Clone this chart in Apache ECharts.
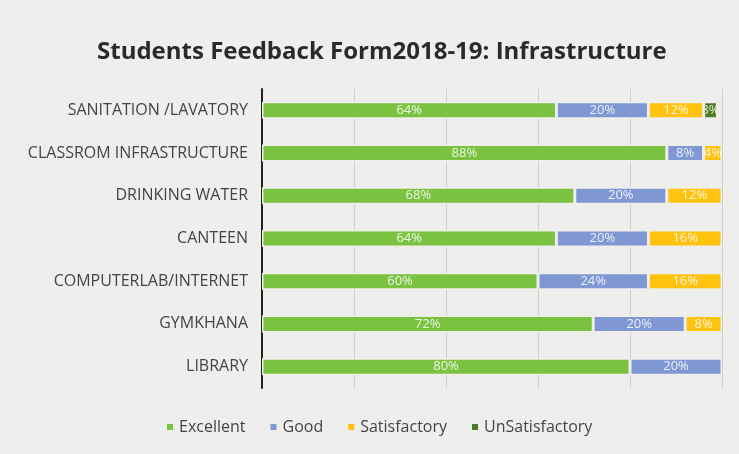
<!DOCTYPE html>
<html><head><meta charset="utf-8">
<script src="https://cdn.jsdelivr.net/npm/echarts@6/dist/echarts.min.js"></script>
<style>html,body{margin:0;padding:0;background:#eeeeec}#c{width:739px;height:454px}</style>
</head><body><div id="c"></div>
<script>
const categories = ['SANITATION /LAVATORY','CLASSROM INFRASTRUCTURE','DRINKING WATER','CANTEEN','COMPUTERLAB/INTERNET','GYMKHANA','LIBRARY'];
const excellent = [64, 88, 68, 64, 60, 72, 80];
const good = [20, 8, 20, 20, 24, 20, 20];
const satisfactory = [12, 4, 12, 16, 16, 8, 0];
const unsatisfactory = [3, 0, 0, 0, 0, 0, 0];
const seriesNames = ['Excellent','Good','Satisfactory','UnSatisfactory'];
const colors = ['#7cc241','#7f97d2','#ffc20e','#4f7a2a'];
const dataSets = [excellent, good, satisfactory, unsatisfactory];

const chart = echarts.init(document.getElementById('c'));
chart.setOption({
  backgroundColor: '#eeeeec',
  animation: false,
  title: {
    text: 'Students Feedback Form2018-19: Infrastructure',
    left: 92, top: 35,
    textStyle: {fontFamily: 'Open Sans', fontWeight: 'bold', fontSize: 24, color: '#2a2a2a'}
  },
  legend: {
    bottom: 14, left: 160,
    itemWidth: 8, itemHeight: 8, itemGap: 23,
    icon: 'rect',
    textStyle: {fontFamily: 'Open Sans', fontSize: 16, color: '#444'},
    data: seriesNames
  },
  grid: {left: 262, right: 17, top: 89, bottom: 66, containLabel: false},
  xAxis: {
    type: 'value', min: 0, max: 100, interval: 20,
    axisLabel: {show: false}, axisLine: {show: false}, axisTick: {show: false},
    splitLine: {lineStyle: {color: '#cfcfcf', width: 1}}
  },
  yAxis: {
    type: 'category', inverse: true, data: categories,
    axisLine: {lineStyle: {color: '#222', width: 2}},
    axisTick: {show: false},
    axisLabel: {fontFamily: 'Open Sans', fontSize: 16, color: '#444', margin: 14}
  },
  series: dataSets.map((d, i) => ({
    name: seriesNames[i], type: 'bar', stack: 'all',
    data: d.map(v => v === 0 ? null : v),
    barWidth: 17,
    itemStyle: {color: colors[i], borderColor: '#eeeeec', borderWidth: 1.5},
    label: {
      show: true, position: 'inside', formatter: '{c}%',
      fontFamily: 'Open Sans', fontSize: 13,
      color: i === 3 ? '#dfe8d0' : 'rgba(255,255,255,0.85)'
    }
  }))
});
</script></body></html>
